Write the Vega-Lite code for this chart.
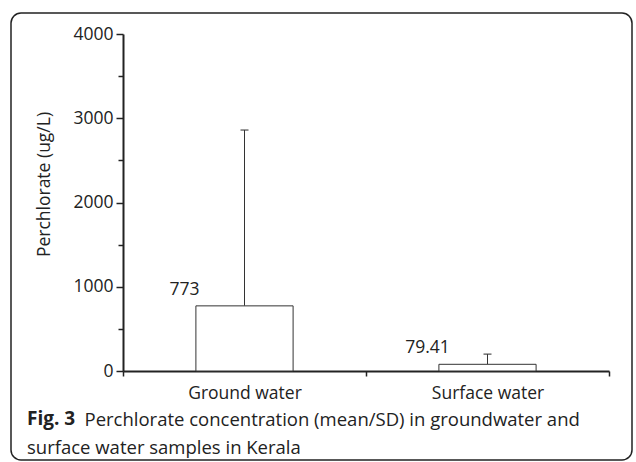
{
  "$schema": "https://vega.github.io/schema/vega-lite/v6.json",
  "width": 621,
  "height": 447,
  "autosize": {"type": "none"},
  "padding": {"left": 11, "top": 13, "right": 4, "bottom": 2},
  "background": "white",
  "config": {
    "view": {"stroke": "#222", "strokeWidth": 1.5, "cornerRadius": 10},
    "font": "Open Sans",
    "axis": {"labelFont": "Open Sans", "titleFont": "Open Sans", "grid": false}
  },
  "title": {
    "text": "Fig. 3",
    "subtitle": "surface water samples in Kerala",
    "orient": "bottom",
    "anchor": "start",
    "frame": "group",
    "offset": -50,
    "dx": 16,
    "font": "Open Sans",
    "fontSize": 19,
    "fontWeight": "bold",
    "color": "#222",
    "subtitleFont": "Open Sans",
    "subtitleFontSize": 18.5,
    "subtitleColor": "#222",
    "subtitlePadding": 10
  },
  "data": {
    "values": [
      {"source": "Ground water", "mean": 773, "upper": 2860, "label": "773"},
      {"source": "Surface water", "mean": 79.41, "upper": 200, "label": "79.41"}
    ]
  },
  "encoding": {
    "x": {
      "field": "source",
      "type": "nominal",
      "scale": {"range": [112, 598], "paddingInner": 0, "paddingOuter": 0},
      "axis": {
        "orient": "bottom",
        "offset": -89,
        "tickBand": "extent",
        "labelAngle": 0,
        "labelFontSize": 17.5,
        "labelColor": "#222",
        "labelPadding": 8,
        "tickSize": 5,
        "tickColor": "#222",
        "tickWidth": 1.5,
        "domainColor": "#222",
        "domainWidth": 2,
        "title": "Perchlorate concentration (mean/SD) in groundwater and",
        "titleX": 73,
        "titleY": 54,
        "titleAlign": "left",
        "titleBaseline": "alphabetic",
        "titleFontWeight": "normal",
        "titleFontSize": 18.5,
        "titleColor": "#222"
      }
    }
  },
  "layer": [
    {
      "mark": {"type": "rule", "color": "#333", "strokeWidth": 1},
      "encoding": {
        "y": {
          "field": "mean",
          "type": "quantitative",
          "scale": {"domain": [0, 4000], "range": [358, 21], "nice": false},
          "axis": {
            "orient": "left",
            "offset": -112,
            "values": [500, 1500, 2500, 3500],
            "labels": false,
            "domain": false,
            "tickSize": 5,
            "tickWidth": 1.5,
            "tickColor": "#222",
            "title": null
          }
        },
        "y2": {"field": "upper"}
      }
    },
    {
      "mark": {"type": "bar", "fill": "white", "stroke": "#333", "strokeWidth": 1, "width": {"band": 0.4}},
      "encoding": {
        "y": {
          "field": "mean",
          "type": "quantitative",
          "axis": {
            "orient": "left",
            "offset": -112,
            "values": [0, 1000, 2000, 3000, 4000],
            "format": "d",
            "tickSize": 7,
            "tickWidth": 1.5,
            "tickColor": "#222",
            "domainColor": "#222",
            "domainWidth": 2,
            "labelFontSize": 17.5,
            "labelColor": "#222",
            "labelPadding": 3,
            "title": "Perchlorate (ug/L)",
            "titleFontSize": 17.5,
            "titleFontWeight": "normal",
            "titleColor": "#222",
            "titleX": -79,
            "titleY": 171,
            "titleAlign": "center",
            "titleBaseline": "middle",
            "titleAngle": -90
          }
        }
      }
    },
    {
      "mark": {"type": "tick", "size": 8, "thickness": 1.5, "color": "#333", "orient": "horizontal"},
      "encoding": {
        "y": {"field": "upper", "type": "quantitative", "axis": null}
      }
    },
    {
      "mark": {"type": "text", "dx": -60, "dy": -16, "baseline": "middle", "align": "center", "fontSize": 17.5, "color": "#222", "font": "Open Sans"},
      "encoding": {
        "y": {"field": "mean", "type": "quantitative", "axis": null},
        "text": {"field": "label"}
      }
    }
  ],
  "resolve": {"axis": {"y": "independent"}}
}
